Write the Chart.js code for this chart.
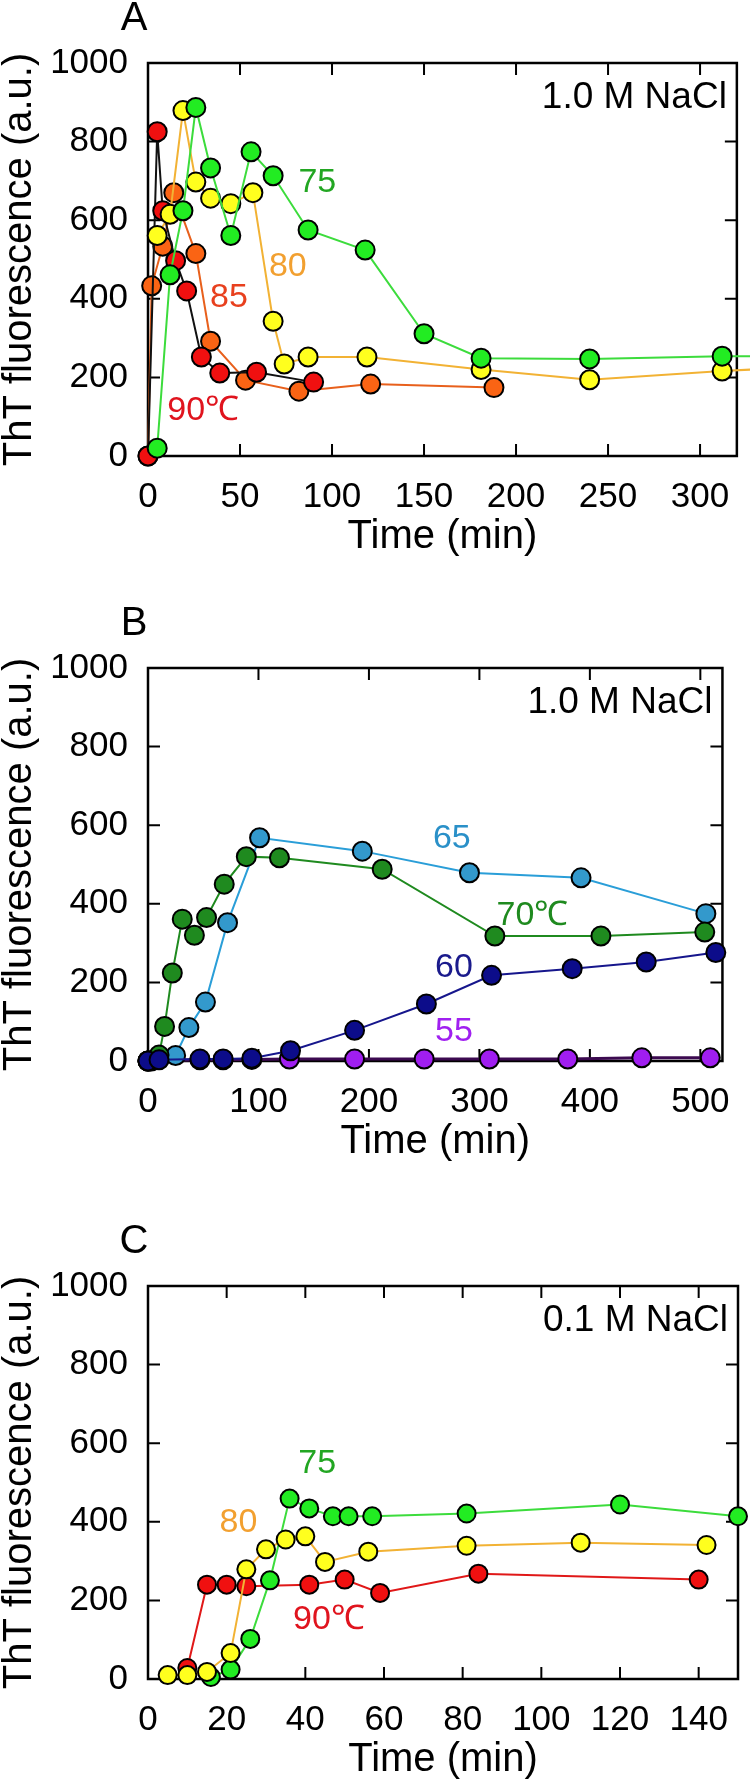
<!DOCTYPE html>
<html>
<head>
<meta charset="utf-8">
<title>ThT fluorescence kinetics</title>
<script src="https://cdn.jsdelivr.net/npm/chart.js@4.4.1/dist/chart.umd.min.js"></script>
<style>
  body { margin: 0; background: #fff; }
  .panel { position: absolute; left: 0; }
</style>
</head>
<body>
<canvas id="chartA" class="panel" width="750" height="560" style="top:0px"></canvas>
<canvas id="chartB" class="panel" width="750" height="560" style="top:605px"></canvas>
<canvas id="chartC" class="panel" width="750" height="560" style="top:1223px"></canvas>
<script>
// ---- panel A : 1.0 M NaCl, 75-90 C ----
var a75x = [5, 12, 19, 26, 34, 45, 56, 68, 87, 118, 150, 181, 240, 312, 336];
var a75y = [20, 461, 624, 887, 733, 561, 774, 713, 575, 524, 311, 249, 247, 254, 254];
var a80x = [5, 12, 19, 26, 34, 45, 57, 68, 74, 87, 119, 181, 240, 312, 336];
var a80y = [561, 615, 879, 697, 656, 642, 670, 343, 234, 252, 252, 220, 194, 216, 222];
var a85x = [0, 2, 8, 14, 26, 34, 53, 82, 121, 188];
var a85y = [0, 433, 534, 670, 515, 292, 193, 165, 183, 174];
var a90x = [0, 5, 8, 15, 21, 29, 39, 59, 90];
var a90y = [0, 825, 624, 497, 420, 252, 211, 213, 188];

// ---- panel B : 1.0 M NaCl, 55-70 C ----
var b60x = [0, 10, 47, 68, 94, 129, 187, 252, 311, 384, 451, 514];
var b60y = [0, 3, 5, 5, 7, 26, 78, 145, 218, 235, 252, 276];
var b70x = [0, 3, 10, 15, 22, 31, 42, 53, 69, 89, 119, 212, 314, 410, 504];
var b70y = [0, 0, 15, 88, 224, 361, 320, 365, 450, 520, 517, 488, 318, 318, 328];
var b65x = [0, 10, 25, 37, 52, 72, 101, 194, 291, 392, 505];
var b65y = [0, 5, 14, 85, 150, 352, 568, 534, 479, 466, 375];
var b55x = [0, 47, 68, 94, 128, 187, 250, 309, 380, 447, 509];
var b55y = [0, 3, 3, 4, 5, 5, 5, 5, 5, 8, 8];

// ---- panel C : 0.1 M NaCl, 75-90 C ----
var c80x = [5, 10, 15, 21, 25, 30, 35, 40, 45, 56, 81, 110, 142];
var c80y = [10, 10, 18, 66, 279, 330, 355, 363, 298, 324, 339, 347, 341];
var c75x = [16, 21, 26, 31, 36, 41, 47, 51, 57, 81, 120, 150];
var c75y = [5, 24, 102, 251, 459, 434, 414, 414, 414, 421, 444, 414];
var c90x = [10, 15, 20, 25, 41, 50, 59, 84, 140];
var c90y = [28, 240, 240, 236, 240, 253, 219, 268, 253];

var yTicks = [0, 200, 400, 600, 800, 1000];

var FONT = "'Liberation Sans', Arial, Helvetica, sans-serif";

function pts(xs, ys) {
  var out = [];
  for (var i = 0; i < xs.length; i++) out.push({ x: xs[i], y: ys[i] });
  return out;
}

function series(name, xs, ys, fill, line, r, lw) {
  return {
    label: name,
    data: pts(xs, ys),
    showLine: true,
    tension: 0,
    borderColor: line,
    borderWidth: lw || 2,
    backgroundColor: fill,
    pointBackgroundColor: fill,
    pointBorderColor: '#000',
    pointBorderWidth: 2,
    pointRadius: r,
    clip: false
  };
}

// frame, inward ticks, panel letter, salt note and curve labels
var panelDecor = {
  id: 'panelDecor',
  beforeDatasetsDraw: function (chart, args, opts) {
    var c = chart.ctx, a = chart.chartArea;
    var xs = chart.scales.x, ys = chart.scales.y;
    c.save();
    c.strokeStyle = '#000';
    c.lineWidth = 2.5;
    c.strokeRect(a.left, a.top, a.right - a.left, a.bottom - a.top);
    c.lineWidth = 2;
    c.beginPath();
    xs.ticks.forEach(function (t) {
      var px = xs.getPixelForValue(t.value);
      if (px <= a.left + 1 || px >= a.right - 1) return;
      c.moveTo(px, a.bottom); c.lineTo(px, a.bottom - 12);
      c.moveTo(px, a.top); c.lineTo(px, a.top + 12);
    });
    ys.ticks.forEach(function (t) {
      var py = ys.getPixelForValue(t.value);
      if (py <= a.top + 1 || py >= a.bottom - 1) return;
      c.moveTo(a.left, py); c.lineTo(a.left + 12, py);
      c.moveTo(a.right, py); c.lineTo(a.right - 12, py);
    });
    c.stroke();
    c.restore();
  },
  afterDatasetsDraw: function (chart, args, opts) {
    var c = chart.ctx, a = chart.chartArea;
    var xs = chart.scales.x, ys = chart.scales.y;
    c.save();
    c.fillStyle = '#000';
    c.textBaseline = 'middle';
    c.textAlign = 'center';
    c.font = '40px ' + FONT;
    c.fillText(opts.letter, 134, a.top - 44);
    c.textAlign = 'right';
    c.font = '37px ' + FONT;
    c.fillText(opts.note, a.right - 10, a.top + 35);
    c.textAlign = 'center';
    c.font = '34px ' + FONT;
    opts.labels.forEach(function (l) {
      c.fillStyle = l.color;
      c.fillText(l.text, xs.getPixelForValue(l.x), ys.getPixelForValue(l.y));
    });
    c.restore();
  }
};

function plain(v) { return String(v); }

function makePanel(id, datasets, xMax, xStep, decor) {
  var ctx = document.getElementById(id).getContext('2d');
  return new Chart(ctx, {
    type: 'scatter',
    data: { datasets: datasets },
    options: {
      responsive: false,
      animation: false,
      devicePixelRatio: 1,
      layout: { padding: { top: 63, right: 12, left: 0, bottom: 0 } },
      plugins: {
        legend: { display: false },
        tooltip: { enabled: false },
        panelDecor: decor
      },
      scales: {
        x: {
          type: 'linear',
          min: 0,
          max: xMax,
          grid: { display: false, drawTicks: false },
          border: { display: false },
          ticks: {
            stepSize: xStep, includeBounds: false, padding: 20, maxRotation: 0, autoSkip: false,
            color: '#000', font: { family: FONT, size: 35 }, callback: plain
          },
          title: {
            display: true, text: 'Time (min)', color: '#000',
            font: { family: FONT, size: 40, lineHeight: 1 }, padding: { top: 0, bottom: 3 }
          },
          afterFit: function (s) { s.height = 104; }
        },
        y: {
          type: 'linear',
          min: 0,
          max: 1000,
          grid: { display: false, drawTicks: false },
          border: { display: false },
          afterBuildTicks: function (s) { s.ticks = yTicks.map(function (v) { return { value: v }; }); },
          ticks: {
            padding: 20, color: '#000', font: { family: FONT, size: 35 }, callback: plain
          },
          title: {
            display: true, text: 'ThT fluorescence (a.u.)', color: '#000',
            font: { family: FONT, size: 40, lineHeight: 1 }, padding: 0
          },
          afterFit: function (s) { s.width = 148; }
        }
      }
    },
    plugins: [panelDecor]
  });
}

// first dataset is drawn on top
makePanel('chartA', [
  series('75', a75x, a75y, '#22ec22', '#3cdc3c', 9.5),
  series('80', a80x, a80y, '#ffff1e', '#f2b234', 9.5),
  series('90', a90x, a90y, '#f01010', '#111111', 9.5),
  series('85', a85x, a85y, '#fa6414', '#e8601c', 9.5)
], 320, 50, {
  letter: 'A', note: '1.0 M NaCl',
  labels: [
    { text: '75', x: 92, y: 696, color: '#22a622' },
    { text: '80', x: 76, y: 483, color: '#f2a030' },
    { text: '85', x: 44, y: 402, color: '#e8401e' },
    { text: '90\u2103', x: 30, y: 115, color: '#e0141e' }
  ]
});

makePanel('chartB', [
  series('60', b60x, b60y, '#0c0c8a', '#16168c', 9.5),
  series('70', b70x, b70y, '#1f8a1f', '#1f8a1f', 9.5),
  series('65', b65x, b65y, '#3399cc', '#2a9ed8', 9.5),
  series('55', b55x, b55y, '#a01ef0', '#3c0a50', 9.5, 3)
], 520, 100, {
  letter: 'B', note: '1.0 M NaCl',
  labels: [
    { text: '65', x: 275, y: 566, color: '#2a90c8' },
    { text: '70\u2103', x: 348, y: 370, color: '#1f8a1f' },
    { text: '60', x: 277, y: 238, color: '#1a1a8c' },
    { text: '55', x: 277, y: 74, color: '#a020f0' }
  ]
});

makePanel('chartC', [
  series('80', c80x, c80y, '#ffff1e', '#f2b234', 9),
  series('75', c75x, c75y, '#22ec22', '#3cdc3c', 9),
  series('90', c90x, c90y, '#f01010', '#e01818', 9)
], 150, 20, {
  letter: 'C', note: '0.1 M NaCl',
  labels: [
    { text: '75', x: 43, y: 548, color: '#22a622' },
    { text: '80', x: 23, y: 397, color: '#f2a030' },
    { text: '90\u2103', x: 46, y: 150, color: '#e0141e' }
  ]
});
</script>
</body>
</html>
